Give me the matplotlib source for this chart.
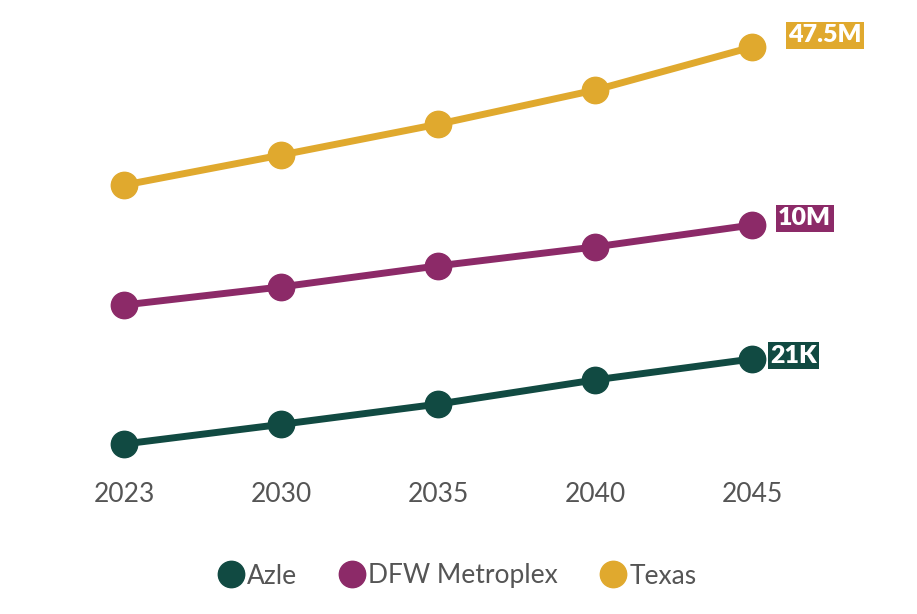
import matplotlib
matplotlib.use("Agg")
import matplotlib.pyplot as plt
from matplotlib.lines import Line2D

years = ["2023", "2030", "2035", "2040", "2045"]
azle = [14.5, 16.0, 17.55, 19.4, 21.0]        # thousands
dfw = [8.1, 8.53, 9.03, 9.48, 10.0]           # millions
texas = [30.5, 34.2, 38.0, 42.2, 47.5]        # millions
end_labels = ["21K", "10M", "47.5M"]

green = "#114a42"
purple = "#8c2a68"
gold = "#e0a92e"
grey = "#555555"

plt.rcParams['font.family'] = ['Lato', 'DejaVu Sans']

fig = plt.figure(figsize=(9.17, 6.14), dpi=100)
# axes box in pixels: x 60..880, y 20..470 (from top)
W, H = 917, 614
rect = [60 / W, 1 - 470 / H, 820 / W, 450 / H]
ax_t = fig.add_axes(rect)
ax_d = fig.add_axes(rect, sharex=ax_t)
ax_a = fig.add_axes(rect, sharex=ax_t)

x = list(range(len(years)))
series = [
    (ax_a, azle, green, (12.51, 46.92), "Azle", end_labels[0], (18, 3)),
    (ax_d, dfw, purple, (4.18, 14.87), "DFW Metroplex", end_labels[1], (26, 7)),
    (ax_t, texas, gold, (-4.6, 50.83), "Texas", end_labels[2], (36, 12)),
]

for ax, vals, col, lim, name, lab, off in series:
    ax.plot(x, vals, color=col, lw=5, marker="o", ms=19, solid_capstyle="round")
    ax.set_ylim(*lim)
    ax.patch.set_visible(False)
    for s in ax.spines.values():
        s.set_visible(False)
    ax.set_yticks([])
    ax.annotate(lab, (x[-1], vals[-1]), xytext=(off[0], off[1]),
                textcoords="offset pixels", ha="left", va="center",
                color="white", fontsize=18, fontweight="heavy",
                bbox=dict(boxstyle="square,pad=0.1", fc=col, ec="none"))

ax_t.set_xlim(-0.41, 4.815)
ax_t.set_xticks(x)
ax_t.set_xticklabels(years)
ax_t.tick_params(axis="x", length=0, pad=9, labelsize=19, labelcolor=grey)
for ax in (ax_d, ax_a):
    ax.tick_params(axis="x", length=0, labelbottom=False)

handles = [Line2D([], [], ls="none", marker="o", ms=19, color=c) for c in (green, purple, gold)]
fig.legend(handles, ["Azle", "DFW Metroplex", "Texas"], loc="center",
           bbox_to_anchor=(0.497, 1 - 576 / H), ncol=3, frameon=False,
           fontsize=19, labelcolor=grey, handletextpad=0.0, columnspacing=1.5,
           handlelength=1.2)

fig.savefig("out.png", dpi=100)
